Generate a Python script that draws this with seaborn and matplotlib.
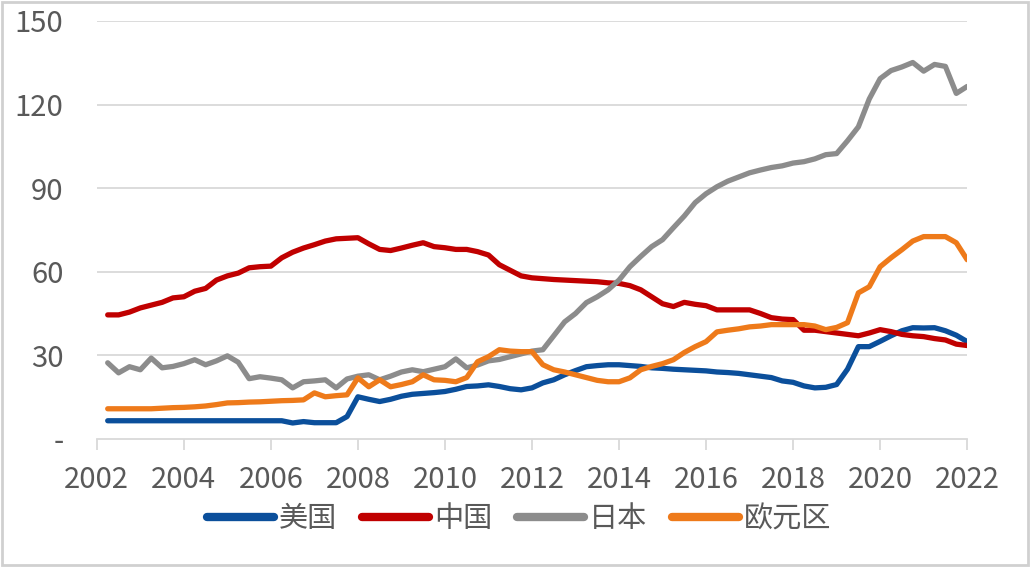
import numpy as np
import pandas as pd
import matplotlib.pyplot as plt
import matplotlib.patches as patches
import seaborn as sns

# -----------------------------
# DATA (quarterly, 2002Q2 - 2022Q1)
# -----------------------------

quarters = np.arange(2002.25, 2022.01, 0.25)

us = [6.5, 6.5, 6.5, 6.5, 6.5, 6.5, 6.5, 6.5, 6.5, 6.5, 6.5, 6.5, 6.5, 6.5, 6.5, 6.5,
      6.5, 5.7, 6.2, 5.8, 5.8, 5.8, 8.0, 15.1, 14.2, 13.4, 14.2, 15.3, 16.0, 16.3, 16.6, 17.0,
      17.8, 18.8, 19.0, 19.4, 18.8, 18.0, 17.6, 18.3, 20.1, 21.2, 23.0, 24.5, 25.9, 26.3, 26.6, 26.6,
      26.3, 26.0, 25.5, 25.3, 25.0, 24.8, 24.6, 24.4, 24.0, 23.8, 23.5, 23.0, 22.5, 22.0, 20.8, 20.3,
      19.0, 18.3, 18.5, 19.5, 25.0, 33.1, 33.1, 35.0, 37.0, 38.8, 39.9, 39.8, 39.9, 38.8, 37.2, 34.9]

china = [44.5, 44.5, 45.5, 47.0, 48.0, 49.0, 50.6, 51.0, 53.0, 54.0, 57.0, 58.5, 59.5, 61.4, 61.8, 62.0,
         65.0, 67.0, 68.5, 69.7, 71.0, 71.8, 72.0, 72.2, 70.0, 68.0, 67.6, 68.5, 69.5, 70.4, 69.0, 68.6,
         68.0, 68.0, 67.2, 66.0, 62.5, 60.5, 58.5, 57.8, 57.5, 57.2, 57.0, 56.8, 56.6, 56.4, 56.0, 55.8,
         55.0, 53.5, 51.0, 48.5, 47.5, 49.0, 48.3, 47.8, 46.3, 46.3, 46.3, 46.3, 45.0, 43.5, 43.0, 42.8,
         39.0, 39.0, 38.5, 38.0, 37.5, 37.0, 38.0, 39.2, 38.5, 37.5, 37.0, 36.7, 36.0, 35.5, 34.0, 33.5]

japan = [27.3, 23.7, 25.9, 24.8, 29.0, 25.5, 26.0, 27.0, 28.4, 26.6, 28.0, 29.8, 27.5, 21.6, 22.3, 21.8,
         21.2, 18.3, 20.5, 20.8, 21.2, 18.3, 21.5, 22.5, 23.0, 21.2, 22.5, 24.0, 24.8, 24.1, 25.0, 25.9,
         28.7, 25.5, 26.5, 28.0, 28.5, 29.5, 30.5, 31.5, 32.0, 37.0, 42.0, 45.0, 48.9, 51.0, 53.5, 57.0,
         61.8, 65.5, 69.0, 71.5, 75.8, 80.0, 84.8, 88.0, 90.5, 92.5, 94.0, 95.5, 96.5, 97.4, 98.0, 99.0,
         99.5, 100.5, 102.0, 102.4, 107.0, 112.0, 122.0, 129.3, 132.2, 133.5, 135.1, 132.0, 134.4, 133.7, 124.0, 126.5]

euro = [10.8, 10.8, 10.8, 10.8, 10.8, 11.0, 11.2, 11.3, 11.5, 11.8, 12.3, 12.9, 13.0, 13.2, 13.3, 13.5,
        13.7, 13.8, 14.0, 16.5, 15.1, 15.5, 15.8, 21.9, 18.7, 21.2, 18.7, 19.5, 20.5, 23.0, 21.2, 21.0,
        20.5, 22.0, 27.7, 29.5, 32.0, 31.5, 31.3, 31.3, 26.6, 24.8, 24.0, 23.0, 22.0, 21.0, 20.5, 20.5,
        21.9, 24.8, 26.0, 27.0, 28.4, 31.0, 33.1, 34.9, 38.4, 39.0, 39.5, 40.2, 40.5, 41.0, 41.0, 41.0,
        41.0, 40.5, 39.2, 40.0, 41.7, 52.4, 54.6, 61.8, 65.0, 67.9, 71.0, 72.6, 72.6, 72.6, 70.4, 64.3]

names = ["美国", "中国", "日本", "欧元区"]
colors = ["#0B4F9B", "#C00000", "#8C8C8C", "#EE7A1A"]

year_ticks = list(range(2002, 2023, 2))
y_ticks = [0, 30, 60, 90, 120, 150]
y_labels = ["-", "30", "60", "90", "120", "150"]

df = pd.concat([
    pd.DataFrame({"date": quarters, "value": vals, "region": name})
    for name, vals in zip(names, [us, china, japan, euro])
])

# -----------------------------
# PLOT
# -----------------------------

sns.set_style("white")
plt.rcParams['font.family'] = ['Noto Sans CJK SC', 'DejaVu Sans']
plt.rcParams['font.weight'] = 'light'

fig = plt.figure(figsize=(10.3, 5.67), dpi=100)
ax = fig.add_axes([0.094, 0.226, 0.845, 0.737])

sns.lineplot(data=df, x="date", y="value", hue="region", hue_order=names,
             palette=colors, linewidth=3.8, ax=ax)

ax.set_xlim(2002, 2022)
ax.set_ylim(0, 150)
ax.set_yticks(y_ticks)
ax.set_yticklabels(y_labels)
ax.set_xticks(year_ticks)
ax.set_xticklabels([str(y) for y in year_ticks])
ax.set_xlabel("")
ax.set_ylabel("")

for y in y_ticks[1:]:
    ax.axhline(y, color="#D9D9D9", linewidth=1.3, zorder=0)

for s in ["top", "right", "left"]:
    ax.spines[s].set_visible(False)
ax.spines["bottom"].set_color("#D9D9D9")
ax.spines["bottom"].set_linewidth(1.3)

ax.tick_params(axis="x", which="major", direction="out", length=8, width=1.3,
               color="#D9D9D9", labelsize=21, labelcolor="#595959", pad=11, bottom=True)
ax.tick_params(axis="y", length=0, labelsize=21, labelcolor="#595959", pad=24)

sns.move_legend(ax, "center", bbox_to_anchor=(0.504, 0.084), bbox_transform=fig.transFigure,
                ncol=4, frameon=False, title=None, fontsize=21, handlelength=2.3,
                handletextpad=0.17, columnspacing=0.85, labelcolor="#595959")
for line in ax.get_legend().get_lines():
    line.set_linewidth(6)
    line.set_solid_capstyle("round")

fig.patches.append(patches.Rectangle((0.002, 0.003), 0.996, 0.994, transform=fig.transFigure,
                                     fill=False, edgecolor="#D0D0D0", linewidth=2))

plt.savefig("out.png", dpi=100)
